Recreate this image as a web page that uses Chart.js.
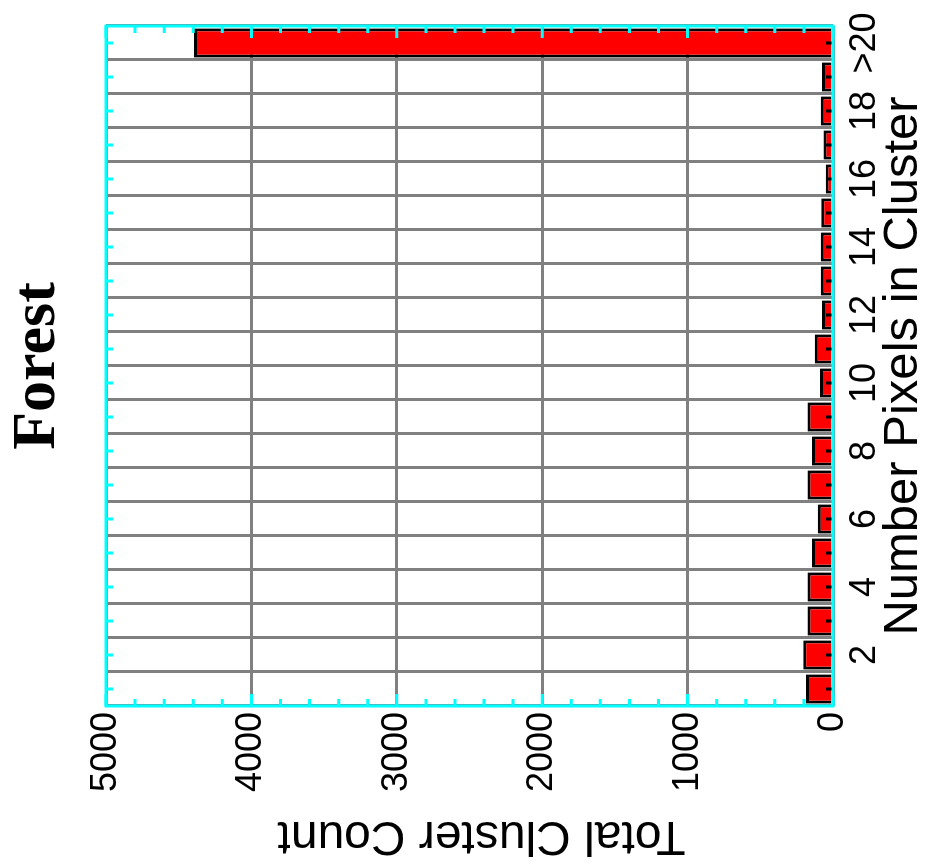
<!DOCTYPE html>
<html>
<head>
<meta charset="utf-8">
<script src="https://cdn.jsdelivr.net/npm/chart.js@4.4.1/dist/chart.umd.min.js"></script>
<style>
html, body { margin: 0; padding: 0; background: #fff; overflow: hidden; }
/* chart is drawn upright, then turned a quarter left like the scan */
#wrap { position: absolute; left: 36px; top: -36px; width: 865px; height: 937px; transform: rotate(-90deg); }
</style>
</head>
<body>
<div id="wrap"><canvas id="chart" width="865" height="937"></canvas></div>
<script>
// Cluster size categories (1..19 pixels, then everything above 20)
const categories = ['1', '2', '3', '4', '5', '6', '7', '8', '9', '10',
    '11', '12', '13', '14', '15', '16', '17', '18', '19', '>20'];
// Total cluster count per size
const clusterCounts = [185, 205, 175, 175, 145, 105, 175, 145, 175, 90,
    125, 75, 85, 85, 80, 50, 65, 85, 75, 4395];
// Which category labels are printed on the axis
const shownLabels = ['2', '4', '6', '8', '10', '12', '14', '16', '18', '>20'];
const countMin = 0;
const countMax = 5000;
const countStep = 1000;
const minorStep = 200;
const countTitle = 'Total Cluster Count';

const sans = "'Liberation Sans', Arial, Helvetica, sans-serif";
const serif = "'Liberation Serif', 'Times New Roman', Times, serif";

// Cyan frame with inward tick marks, plus the count axis title
const framePlugin = {
    id: 'frame',
    afterDraw(chart) {
        const { ctx, chartArea: a, scales: { x, y } } = chart;
        ctx.save();
        ctx.lineWidth = 3;
        ctx.strokeStyle = '#00ffff';
        for (let v = countMin; v <= countMax; v += minorStep) {
            const py = y.getPixelForValue(v);
            const len = v % countStep === 0 ? 12 : 7;
            ctx.beginPath();
            ctx.moveTo(a.left, py);
            ctx.lineTo(a.left + len, py);
            ctx.moveTo(a.right, py);
            ctx.lineTo(a.right - len, py);
            ctx.stroke();
        }
        categories.forEach((c, i) => {
            const px = x.getPixelForValue(i);
            ctx.strokeStyle = '#00ffff';
            ctx.beginPath();
            ctx.moveTo(px, a.top);
            ctx.lineTo(px, a.top + 7);
            ctx.stroke();
            ctx.strokeStyle = '#000000';
            ctx.beginPath();
            ctx.moveTo(px, a.bottom);
            ctx.lineTo(px, a.bottom - 7);
            ctx.stroke();
        });
        ctx.strokeStyle = '#00ffff';
        ctx.strokeRect(a.left, a.top, a.width, a.height);

        // axis title, sits a little below the middle of the axis
        ctx.translate(30, (a.top + a.bottom) / 2 + 12);
        ctx.rotate(-Math.PI / 2);
        ctx.fillStyle = '#000';
        ctx.font = '48px ' + sans;
        ctx.textAlign = 'center';
        ctx.textBaseline = 'middle';
        ctx.fillText(countTitle, 0, 0);
        ctx.restore();
    }
};

const ctx = document.getElementById('chart').getContext('2d');
new Chart(ctx, {
    type: 'bar',
    data: {
        labels: categories,
        datasets: [{
            data: clusterCounts,
            backgroundColor: '#ff0000',
            borderColor: '#000000',
            borderWidth: 3,
            borderSkipped: 'start',
            categoryPercentage: 1.0,
            barPercentage: 0.86
        }]
    },
    options: {
        responsive: false,
        animation: false,
        devicePixelRatio: 1,
        layout: { padding: { left: 0, right: 26, top: 0, bottom: 0 } },
        plugins: {
            legend: { display: false },
            tooltip: { enabled: false },
            title: {
                display: true,
                text: 'Forest',
                fullSize: false,
                color: '#000',
                font: { family: serif, size: 62, weight: 'bold', lineHeight: 1 },
                padding: { top: 7, bottom: 37 }
            }
        },
        scales: {
            x: {
                afterFit: (scale) => { scale.height = 104; },
                grid: { color: '#808080', lineWidth: 3, drawTicks: false, offset: true },
                border: { display: false },
                ticks: {
                    autoSkip: false,
                    maxRotation: 0,
                    minRotation: 0,
                    padding: 10,
                    color: '#000',
                    font: { family: sans, size: 36 },
                    callback: function (value) {
                        const label = this.getLabelForValue(value);
                        return shownLabels.includes(label) ? label : '';
                    }
                },
                title: {
                    display: true,
                    text: 'Number Pixels in Cluster',
                    color: '#000',
                    font: { family: sans, size: 49, lineHeight: 1 },
                    padding: { top: 0, bottom: 9 }
                }
            },
            y: {
                min: countMin,
                max: countMax,
                afterFit: (scale) => { scale.width = 159; },
                grid: { color: '#808080', lineWidth: 3, drawTicks: false },
                border: { display: false },
                ticks: {
                    stepSize: countStep,
                    padding: 6,
                    color: '#000',
                    font: { family: sans, size: 36 },
                    callback: (value) => String(value)
                }
            }
        }
    },
    plugins: [framePlugin]
});
</script>
</body>
</html>
